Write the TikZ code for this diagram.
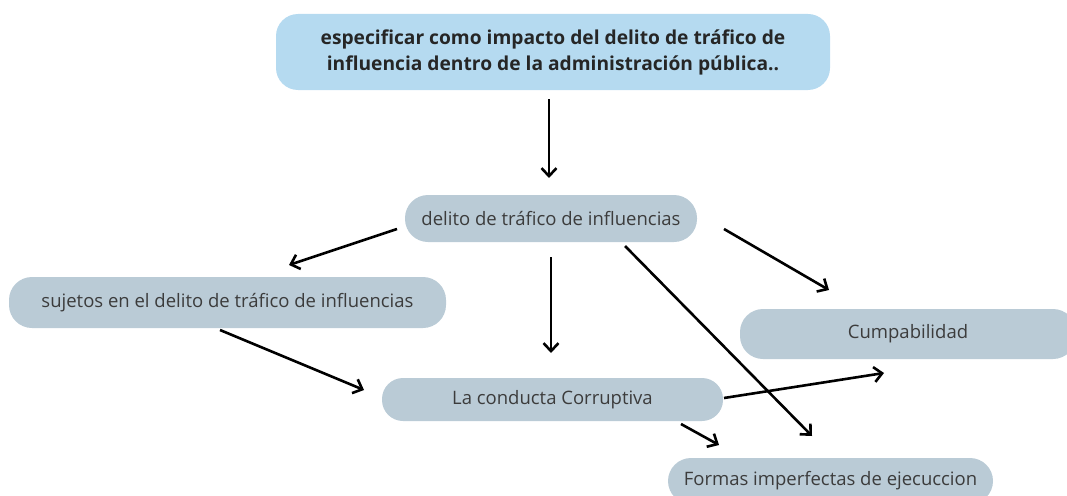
\documentclass[tikz,border=0pt]{standalone}
\usepackage{fontspec}
\setmainfont{Open Sans}
\usetikzlibrary{arrows.meta}
\usetikzlibrary{calc}
\definecolor{topblue}{RGB}{181,218,240}
\definecolor{boxgray}{RGB}{186,203,214}
\definecolor{txtgray}{RGB}{60,60,60}
\tikzset{
    box/.style={fill=boxgray,rounded corners=23pt,inner sep=0pt,outer sep=0pt,
        text=txtgray,font=\fontsize{18.5}{22}\selectfont},
    topbox/.style={fill=topblue,rounded corners=22pt,inner sep=0pt,outer sep=0pt,
        align=center,text=black!85,font=\fontsize{19.2}{26}\selectfont\bfseries},
    arr/.style={-{Straight Barb[length=8pt,width=15pt]},line width=2.6pt}
}
\begin{document}
\begin{tikzpicture}[x=1pt,y=-1pt]
		 	\useasboundingbox (0,0) rectangle (1067,495);
		 	
		 	\node[topbox,minimum width=554,minimum height=76] (top) at (553,52)
		 	    {especificar como impacto del delito de tráfico de\\influencia dentro de la administración pública..};
		 	\node[box,minimum width=292,minimum height=47] (delito) at (551,218.5) {delito de tráfico de influencias};
		 	\node[box,minimum width=437,minimum height=51] (sujetos) at (227.5,302.5) {sujetos en el delito de tráfico de influencias};
		 	\node[box,minimum width=336,minimum height=50] (cumpa) at (908,334) {Cumpabilidad};
		 	\node[box,minimum width=341,minimum height=43,rounded corners=21pt] (conducta) at (552.5,399.5) {La conducta Corruptiva};
		 	\node[box,minimum width=325,minimum height=46] (formas) at (830.5,481) {Formas imperfectas de ejecuccion};
		 	
		 	\draw[arr] ($(top.south)+(-4,9)$) -- ($(delito.north)+(-2,-17)$);
		 	\draw[arr] ($(delito.west)+(-8,10.5)$) -- ($(sujetos.north)+(61.5,-12)$);
		 	\draw[arr] ($(delito.east)+(27,10.5)$) -- ($(cumpa.north)+(-79,-19)$);
		 	\draw[arr] ($(delito.south)+(0,15)$) -- ($(conducta.north)+(-1.5,-25)$);
		 	\draw[arr] ($(delito.south)+(74,4)$) -- ($(formas.north)+(-18.5,-22)$);
		 	\draw[arr] ($(sujetos.south)+(-7.5,2)$) -- ($(conducta.west)+(-18,-9.5)$);
		 	\draw[arr] ($(conducta.east)+(1,-1.5)$) -- ($(cumpa.south)+(-24,14)$);
		 	\draw[arr] ($(conducta.south)+(128.5,3)$) -- ($(formas.north)+(-111.5,-13)$);
\end{tikzpicture}
\end{document}
